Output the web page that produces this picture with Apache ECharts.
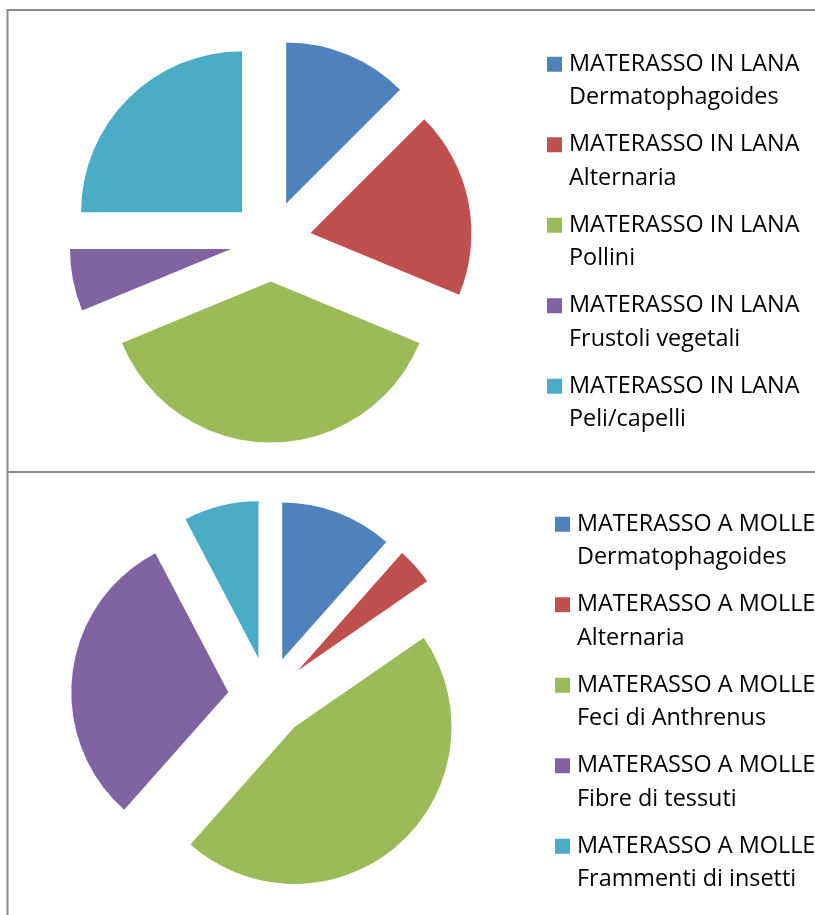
<!DOCTYPE html>
<html>
<head>
<meta charset="utf-8">
<script src="https://cdn.jsdelivr.net/npm/echarts@6/dist/echarts.min.js"></script>
<style>
html,body{margin:0;padding:0;background:#fff;}
#chart{width:815px;height:915px;}
</style>
</head>
<body>
<div id="chart"></div>
<script>
// ---- data ----
const prefixTop = "MATERASSO IN LANA";
const categoriesTop = ["Dermatophagoides", "Alternaria", "Pollini", "Frustoli vegetali", "Peli/capelli"];
const valuesTop = [2, 3, 6, 1, 4];

const prefixBottom = "MATERASSO A MOLLE";
const categoriesBottom = ["Dermatophagoides", "Alternaria", "Feci di Anthrenus", "Fibre di tessuti", "Frammenti di insetti"];
const valuesBottom = [3, 1, 12, 8, 2];

const colors = ["#4F81BD", "#C0504D", "#9BBB59", "#8064A2", "#4BACC6"];

// ---- build ----
function names(prefix, cats) { return cats.map(c => prefix + "\n" + c); }
function pieData(prefix, cats, vals) {
  return cats.map((c, i) => ({
    name: prefix + "\n" + c,
    value: vals[i],
    selected: true,
    itemStyle: { color: colors[i] },
    select: { itemStyle: { color: colors[i], borderWidth: 0 } }
  }));
}

const legendText = {
  fontFamily: "Open Sans",
  fontSize: 23.4,
  color: "#000",
  lineHeight: 33.5,
  padding: [0, 0, 0, 2]
};

function legendFormatter(name) { return "\n" + name; }

const chart = echarts.init(document.getElementById("chart"), null, { renderer: "canvas" });
chart.setOption({
  animation: false,
  color: colors,
  graphic: [
    { type: "line", shape: { x1: 7, y1: 10, x2: 815, y2: 10 }, style: { stroke: "#8a8a8a", lineWidth: 2 } },
    { type: "line", shape: { x1: 7.5, y1: 9, x2: 7.5, y2: 915 }, style: { stroke: "#8a8a8a", lineWidth: 2 } },
    { type: "line", shape: { x1: 7, y1: 472, x2: 815, y2: 472 }, style: { stroke: "#8a8a8a", lineWidth: 2 } }
  ],
  legend: [
    {
      orient: "vertical",
      left: 547, top: 14,
      padding: 0,
      itemWidth: 15, itemHeight: 15,
      itemGap: -20,
      icon: "rect",
      selectedMode: false,
      formatter: legendFormatter,
      data: names(prefixTop, categoriesTop),
      textStyle: legendText
    },
    {
      orient: "vertical",
      left: 555, top: 474,
      padding: 0,
      itemWidth: 15, itemHeight: 15,
      itemGap: -20,
      icon: "rect",
      selectedMode: false,
      formatter: legendFormatter,
      data: names(prefixBottom, categoriesBottom),
      textStyle: legendText
    }
  ],
  series: [
    {
      type: "pie",
      center: [270.7, 241],
      radius: 161,
      startAngle: 90,
      clockwise: true,
      selectedMode: "multiple",
      selectedOffset: 40.5,
      avoidLabelOverlap: false,
      label: { show: false },
      labelLine: { show: false },
      emphasis: { disabled: true, scale: false },
      itemStyle: { borderWidth: 0 },
      data: pieData(prefixTop, categoriesTop, valuesTop)
    },
    {
      type: "pie",
      center: [268, 697],
      radius: 157,
      startAngle: 90,
      clockwise: true,
      selectedMode: "multiple",
      selectedOffset: 40,
      avoidLabelOverlap: false,
      label: { show: false },
      labelLine: { show: false },
      emphasis: { disabled: true, scale: false },
      itemStyle: { borderWidth: 0 },
      data: pieData(prefixBottom, categoriesBottom, valuesBottom)
    }
  ]
});
</script>
</body>
</html>
